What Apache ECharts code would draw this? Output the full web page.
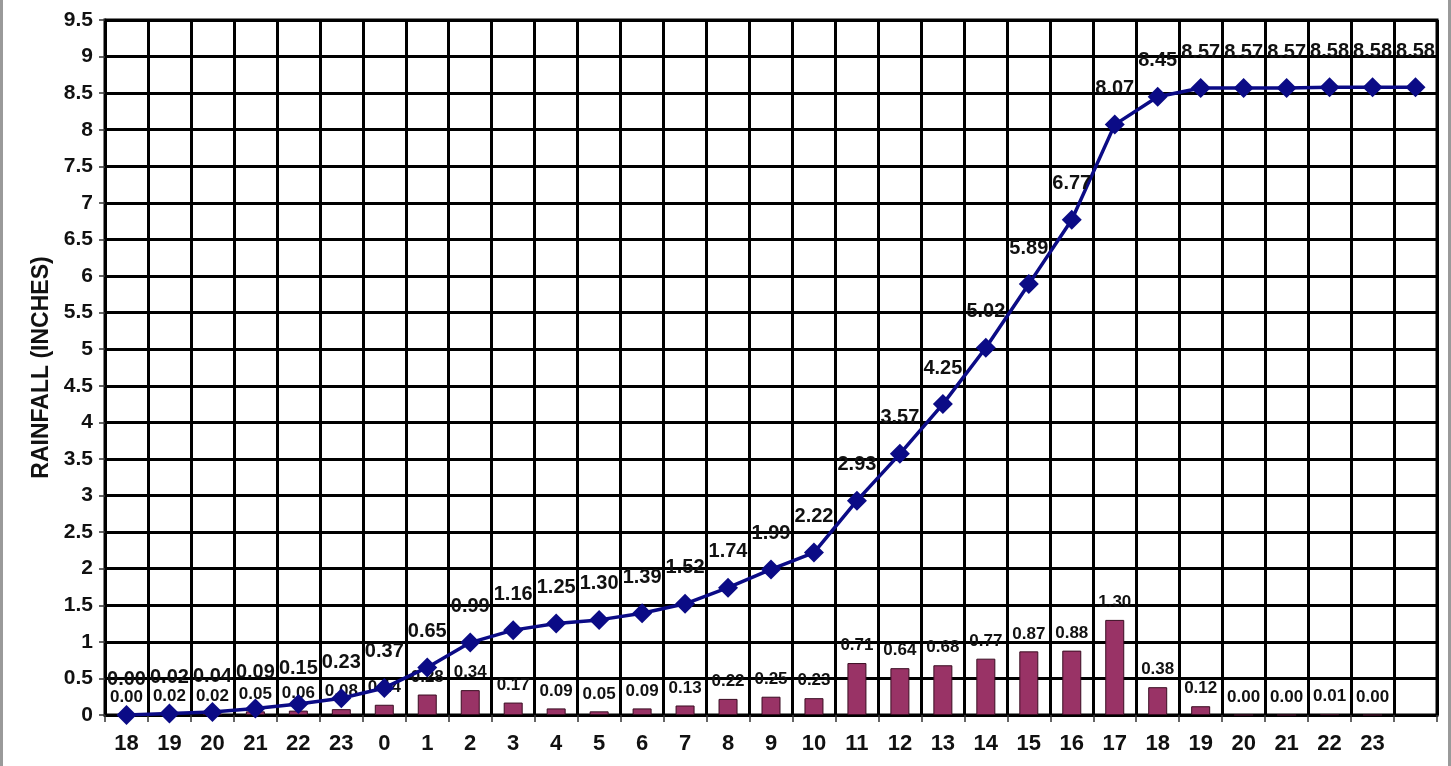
<!DOCTYPE html>
<html>
<head>
<meta charset="utf-8">
<script src="https://cdn.jsdelivr.net/npm/echarts@6/dist/echarts.min.js"></script>
<style>
html,body{margin:0;padding:0;background:#fff;}
#wrap{position:absolute;left:0;top:0;width:1451px;height:766px;box-sizing:border-box;border-left:3px solid #9a9a9a;border-right:3px solid #9a9a9a;}
#chart{position:absolute;left:0;top:0;width:1451px;height:766px;}
</style>
</head>
<body>
<div id="wrap"></div>
<div id="chart"></div>
<script>
var hours = ['18','19','20','21','22','23','0','1','2','3','4','5','6','7','8','9','10','11','12','13','14','15','16','17','18','19','20','21','22','23',''];
var hourlyRain = [0.00,0.02,0.02,0.05,0.06,0.08,0.14,0.28,0.34,0.17,0.09,0.05,0.09,0.13,0.22,0.25,0.23,0.71,0.64,0.68,0.77,0.87,0.88,1.30,0.38,0.12,0.00,0.00,0.01,0.00];
var cumulativeRain = [0.00,0.02,0.04,0.09,0.15,0.23,0.37,0.65,0.99,1.16,1.25,1.30,1.39,1.52,1.74,1.99,2.22,2.93,3.57,4.25,5.02,5.89,6.77,8.07,8.45,8.57,8.57,8.57,8.58,8.58,8.58];
var yTicks = {min: 0, max: 9.5, interval: 0.5};
var yAxisTitle = 'RAINFALL (INCHES)';

var chart = echarts.init(document.getElementById('chart'));
var font = 'Arial, "Liberation Sans", sans-serif';
chart.setOption({
  backgroundColor: 'transparent',
  animation: false,
  grid: {left: 105, right: 14, top: 20, bottom: 51, show: true, borderColor: '#000', borderWidth: 3, backgroundColor: 'transparent'},
  xAxis: {
    type: 'category',
    data: hours,
    boundaryGap: true,
    axisLine: {show: true, lineStyle: {color: '#000', width: 3}},
    axisTick: {show: true, length: 7, alignWithLabel: false, interval: 0, lineStyle: {color: '#333', width: 1.5}},
    axisLabel: {interval: 0, color: '#111', fontFamily: font, fontWeight: 'bold', fontSize: 22, margin: 18},
    splitLine: {show: true, interval: 0, lineStyle: {color: '#000', width: 3}}
  },
  yAxis: {
    type: 'value',
    min: yTicks.min, max: yTicks.max, interval: yTicks.interval,
    name: yAxisTitle,
    nameLocation: 'middle',
    nameGap: 52,
    nameTextStyle: {color: '#111', fontFamily: font, fontWeight: 'bold', fontSize: 23},
    axisLine: {show: true, lineStyle: {color: '#000', width: 3}},
    axisTick: {show: true, length: 6, lineStyle: {color: '#333', width: 1.5}},
    axisLabel: {color: '#111', fontFamily: font, fontWeight: 'bold', fontSize: 21, margin: 12},
    splitLine: {show: true, lineStyle: {color: '#000', width: 3}}
  },
  series: [
    {
      type: 'bar',
      data: hourlyRain,
      barWidth: 19,
      z: 2,
      itemStyle: {color: '#993366', borderColor: '#3a0d22', borderWidth: 1},
      label: {show: true, position: 'top', distance: 9, color: '#111', fontFamily: font, fontWeight: 'bold', fontSize: 17,
        formatter: function (p) { return p.value.toFixed(2); }}
    },
    {
      type: 'line',
      data: cumulativeRain,
      z: 5,
      symbol: 'diamond',
      symbolSize: 20,
      lineStyle: {color: '#0b0b86', width: 3.5},
      itemStyle: {color: '#0b0b86'},
      label: {show: true, position: 'top', distance: 16, color: '#111', fontFamily: font, fontWeight: 'bold', fontSize: 20,
        formatter: function (p) { return p.value.toFixed(2); }}
    }
  ]
});
</script>
</body>
</html>
